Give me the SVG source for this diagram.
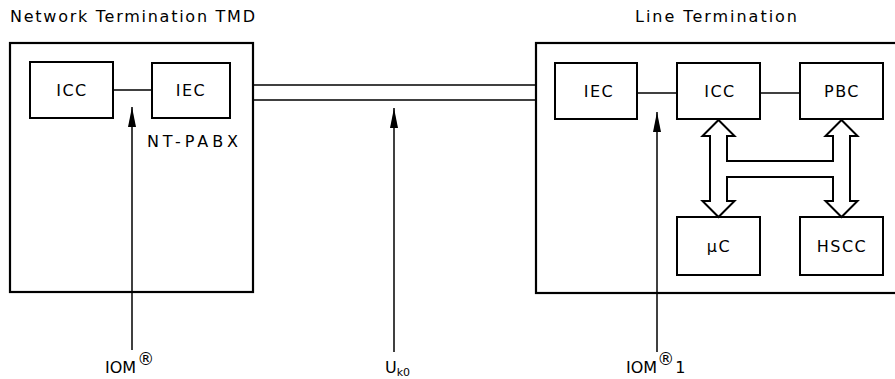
<svg xmlns="http://www.w3.org/2000/svg" width="895" height="379" viewBox="0 0 895 379">
<style>
  .box{fill:none;stroke:#000;stroke-width:2}
  .outer{fill:none;stroke:#000;stroke-width:2.2}
  .ln{fill:none;stroke:#000;stroke-width:1.5}
  .hollow{fill:#fff;stroke:#000;stroke-width:2;stroke-linejoin:miter}
  text{font-family:"DejaVu Sans","Liberation Sans",Arial,sans-serif;fill:#000}
  .t{font-size:16px}
  .lbl{font-size:16px;text-anchor:middle;letter-spacing:1.5px}
  .reg{font-size:17px}
</style>
<defs>
  <marker id="ah" markerWidth="20" markerHeight="8" refX="20" refY="4" orient="auto" markerUnits="userSpaceOnUse" viewBox="0 0 20 8">
    <path d="M0,0 L20,4 L0,8 Z" fill="#000"/>
  </marker>
</defs>
<rect width="895" height="379" fill="#fff"/>

<g id="nt-title"><text class="t" x="10" y="22" textLength="245" lengthAdjust="spacing">Network Termination TMD</text></g>
<g id="lt-title"><text class="t" x="635" y="22" textLength="162" lengthAdjust="spacing">Line Termination</text></g>

<g id="nt"><rect class="outer" x="10" y="43" width="243" height="249"/></g>
<g id="lt"><rect class="outer" x="536" y="43" width="380" height="250"/></g>

<g id="nt-icc"><rect class="box" x="30" y="62" width="83" height="56"/><text class="lbl" x="72" y="96">ICC</text></g>
<g id="nt-iec"><rect class="box" x="152" y="63" width="78" height="55"/><text class="lbl" x="191" y="96">IEC</text></g>
<g id="nt-pabx-label"><text class="t" x="147" y="147" textLength="91" lengthAdjust="spacing">NT-PABX</text></g>

<g id="lt-iec"><rect class="box" x="555" y="63" width="82" height="56"/><text class="lbl" x="599" y="97">IEC</text></g>
<g id="lt-icc"><rect class="box" x="677" y="63" width="83" height="56"/><text class="lbl" x="720" y="97">ICC</text></g>
<g id="lt-pbc"><rect class="box" x="800" y="63" width="83" height="56"/><text class="lbl" x="842" y="97">PBC</text></g>
<g id="lt-uc"><rect class="box" x="677" y="217" width="83" height="58"/><text class="lbl" x="719" y="252">μC</text></g>
<g id="lt-hscc"><rect class="box" x="800" y="217" width="83" height="58"/><text class="lbl" x="842" y="252">HSCC</text></g>

<g id="connectors">
  <line class="ln" x1="113" y1="90" x2="152" y2="90"/>
  <line class="ln" x1="637" y1="93" x2="677" y2="93"/>
  <line class="ln" x1="760" y1="93" x2="800" y2="93"/>
  <line class="ln" x1="253" y1="85" x2="536" y2="85"/>
  <line class="ln" x1="253" y1="100" x2="536" y2="100"/>
  <line class="ln" x1="132" y1="350" x2="132" y2="107" marker-end="url(#ah)"/>
  <line class="ln" x1="394" y1="352" x2="394" y2="108" marker-end="url(#ah)"/>
  <line class="ln" x1="657" y1="352" x2="657" y2="112" marker-end="url(#ah)"/>
  <path class="hollow" d="M718.5,120 L734.5,136 L727,136 L727,161 L833,161 L833,136 L825.5,136 L841.5,120 L857.5,136 L850,136 L850,201 L857.5,201 L841.5,217 L825.5,201 L833,201 L833,177 L727,177 L727,201 L734.5,201 L718.5,217 L702.5,201 L710,201 L710,136 L702.5,136 Z"/>
</g>

<g id="iom-label"><text class="t" x="105" y="373">IOM<tspan class="reg" dx="1" dy="-8">®</tspan></text></g>
<g id="uk0-label"><text class="t" x="385" y="373">U<tspan font-size="11" dy="3">k0</tspan></text></g>
<g id="iom1-label"><text class="t" x="626" y="373">IOM<tspan class="reg" dy="-8">®</tspan><tspan dx="1" dy="8">1</tspan></text></g>
</svg>
